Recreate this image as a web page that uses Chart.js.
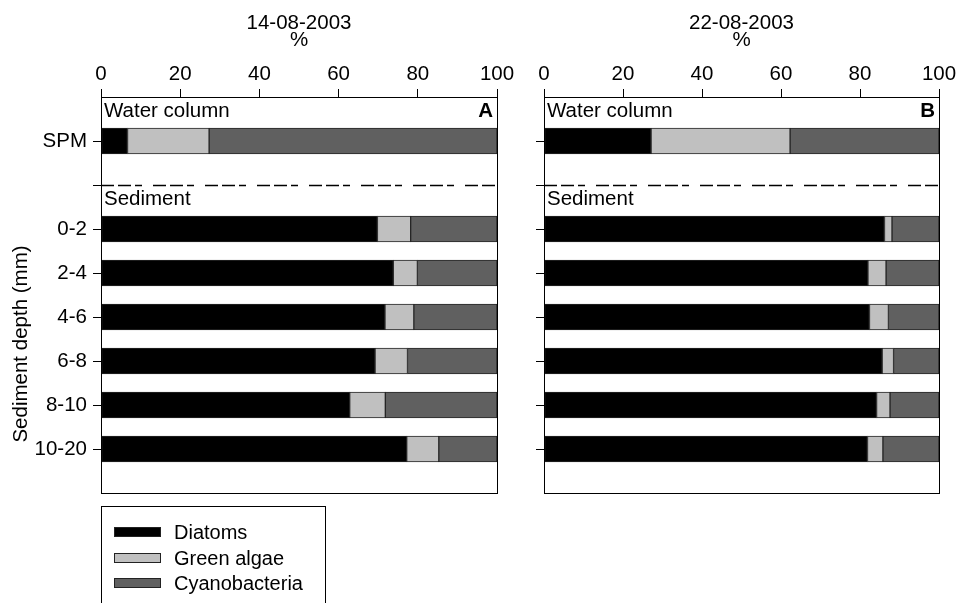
<!DOCTYPE html>
<html>
<head>
<meta charset="utf-8">
<script src="https://cdn.jsdelivr.net/npm/chart.js@4"></script>
<style>
  body { margin: 0; background: #fff; }
  #wrap { position: relative; width: 960px; height: 603px; overflow: hidden; font-family: "Liberation Sans", Arial, sans-serif; }
  canvas { position: absolute; top: 0; }
  #chartA { left: 0; }
  #chartB { left: 520px; }
  #legend { position: absolute; left: 101px; top: 506px; width: 225px; height: 120px; border: 1px solid #000; box-sizing: border-box; }
  .item { position: absolute; left: 12px; height: 20px; font-size: 20px; line-height: 20px; color: #000; }
  .swatch { position: absolute; left: 0; top: 5px; width: 47px; height: 10px; box-sizing: border-box; border: 1px solid #222; }
  .item span { position: absolute; left: 60px; top: 0; white-space: nowrap; }
</style>
</head>
<body>
<div id="wrap">
  <canvas id="chartA" width="520" height="603"></canvas>
  <canvas id="chartB" width="440" height="603"></canvas>
  <div id="legend"></div>
</div>
<script>
// depth classes, empty slots are the header rows and the water/sediment divider
const categories = ['', 'SPM', '', '0-2', '2-4', '4-6', '6-8', '8-10', '10-20', ''];
const groups = ['Diatoms', 'Green algae', 'Cyanobacteria'];
const groupColors = ['#000000', '#c0c0c0', '#606060'];
const xTicks = [0, 20, 40, 60, 80, 100];

// 14-08-2003 (A)
const diatomsA = [null, 6.7, null, 69.8, 73.8, 71.7, 69.2, 62.8, 77.2, null];
const greenA   = [null, 20.6, null, 8.4, 6.1, 7.3, 8.2, 9.0, 8.1, null];
const cyanoA   = [null, 72.7, null, 21.8, 20.1, 21.0, 22.6, 28.2, 14.7, null];

// 22-08-2003 (B)
const diatomsB = [null, 27.1, null, 86.2, 82.0, 82.4, 85.6, 84.2, 81.9, null];
const greenB   = [null, 35.2, null, 1.9, 4.6, 4.8, 2.9, 3.4, 3.9, null];
const cyanoB   = [null, 37.7, null, 11.9, 13.4, 12.8, 11.5, 12.4, 14.2, null];

const FONT = '"Liberation Sans", Arial, sans-serif';

const panelDecor = {
    id: 'panelDecor',
    afterDraw(chart, args, opts) {
        const { ctx, chartArea } = chart;
        const y = chart.scales.y;
        ctx.save();
        // frame
        ctx.strokeStyle = '#000';
        ctx.lineWidth = 1;
        ctx.strokeRect(Math.round(chartArea.left) + 0.5, Math.round(chartArea.top) + 0.5,
            Math.round(chartArea.right - chartArea.left), Math.round(chartArea.bottom - chartArea.top));
        // divider between water column and sediment
        const dy = Math.round(y.getPixelForValue(2)) + 0.5;
        ctx.setLineDash([13, 4, 13, 4, 7, 11]);
        ctx.lineWidth = 1.5;
        ctx.beginPath();
        ctx.moveTo(chartArea.left, dy);
        ctx.lineTo(chartArea.right, dy);
        ctx.stroke();
        ctx.setLineDash([]);
        // labels
        ctx.fillStyle = '#000';
        ctx.textBaseline = 'middle';
        ctx.font = '20.5px ' + FONT;
        ctx.textAlign = 'left';
        ctx.fillText('Water column', chartArea.left + 3, y.getPixelForValue(0.33));
        ctx.fillText('Sediment', chartArea.left + 3, y.getPixelForValue(2.32));
        ctx.font = 'bold 20.5px ' + FONT;
        ctx.textAlign = 'right';
        ctx.fillText(opts.letter, chartArea.right - 4, y.getPixelForValue(0.33));
        if (opts.yTitle) {
            ctx.font = '20.5px ' + FONT;
            ctx.textAlign = 'center';
            ctx.translate(21, 344);
            ctx.rotate(-Math.PI / 2);
            ctx.fillText(opts.yTitle, 0, 0);
        }
        ctx.restore();
    }
};

function makePanel(canvasId, date, series, opt) {
    const ctx = document.getElementById(canvasId).getContext('2d');
    return new Chart(ctx, {
        type: 'bar',
        data: {
            labels: categories,
            datasets: series.map((data, i) => ({
                label: groups[i],
                data: data,
                backgroundColor: groupColors[i],
                borderColor: '#262626',
                borderWidth: 1,
                borderSkipped: false,
                barThickness: 26
            }))
        },
        plugins: [panelDecor],
        options: {
            indexAxis: 'y',
            responsive: false,
            animation: false,
            devicePixelRatio: 1,
            layout: { padding: { left: 0, top: 0, right: opt.right, bottom: 110 } },
            plugins: {
                legend: { display: false },
                tooltip: { enabled: false },
                panelDecor: { letter: opt.letter, yTitle: opt.yTitle }
            },
            scales: {
                x: {
                    position: 'top',
                    stacked: true,
                    min: 0,
                    max: 100,
                    afterBuildTicks: (scale) => { scale.ticks = xTicks.map(v => ({ value: v })); },
                    afterFit: (scale) => { scale.height = 97; },
                    grid: { drawOnChartArea: false, drawTicks: true, tickLength: 8, color: '#000' },
                    border: { display: true, color: '#000' },
                    ticks: { color: '#000', padding: 2, maxRotation: 0, font: { family: FONT, size: 20.5 } },
                    title: {
                        display: true,
                        text: [date, '%'],
                        color: '#000',
                        padding: { top: 15, bottom: 0 },
                        font: { family: FONT, size: 20.5, lineHeight: 0.82 }
                    }
                },
                y: {
                    stacked: true,
                    offset: false,
                    afterFit: (scale) => { scale.width = opt.left; },
                    grid: {
                        offset: false,
                        drawOnChartArea: false,
                        drawTicks: true,
                        tickLength: 8,
                        color: (c) => (c.index === 0 || c.index === categories.length - 1) ? 'rgba(0,0,0,0)' : '#000'
                    },
                    border: { display: true, color: '#000' },
                    ticks: {
                        display: opt.showLabels,
                        autoSkip: false,
                        color: '#000',
                        padding: 6,
                        font: { family: FONT, size: 20.5 }
                    }
                }
            }
        }
    });
}

document.addEventListener('DOMContentLoaded', () => {
    makePanel('chartA', '14-08-2003', [diatomsA, greenA, cyanoA],
        { left: 101, right: 23, letter: 'A', yTitle: 'Sediment depth (mm)', showLabels: true });
    makePanel('chartB', '22-08-2003', [diatomsB, greenB, cyanoB],
        { left: 24, right: 21, letter: 'B', yTitle: null, showLabels: false });

    const legend = document.getElementById('legend');
    groups.forEach((name, i) => {
        const item = document.createElement('div');
        item.className = 'item';
        item.style.top = (15 + i * 25.5) + 'px';
        const sw = document.createElement('div');
        sw.className = 'swatch';
        sw.style.background = groupColors[i];
        const txt = document.createElement('span');
        txt.textContent = name;
        item.appendChild(sw);
        item.appendChild(txt);
        legend.appendChild(item);
    });
});
</script>
</body>
</html>
